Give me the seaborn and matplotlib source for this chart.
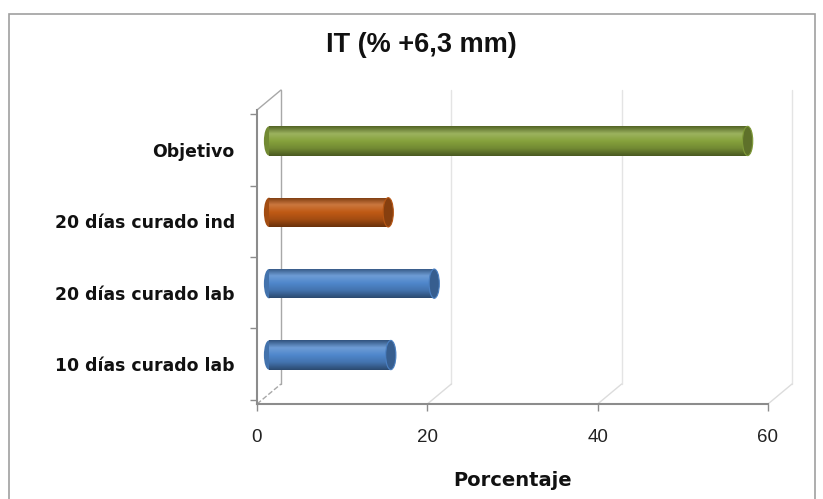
import numpy as np
import pandas as pd
import matplotlib
matplotlib.use("Agg")
import matplotlib.pyplot as plt
import matplotlib.transforms as mtransforms
from matplotlib.colors import LinearSegmentedColormap, to_rgb
from matplotlib.patches import Ellipse, Rectangle
import seaborn as sns

# data
categories = ["Objetivo", "20 días curado ind", "20 días curado lab", "10 días curado lab"]
values = [56.2, 14.0, 19.4, 14.3]
bar_colors = ["#86a23c", "#c05a15", "#4f87cc", "#4f87cc"]
x_ticks = [0, 20, 40, 60]

df = pd.DataFrame({"cat": categories, "val": values})

sns.set_theme(style="white")
plt.rcParams["font.family"] = ["Liberation Sans", "DejaVu Sans"]

W, H = 823, 499
fig = plt.figure(figsize=(W / 100, H / 100), dpi=100)
ax = fig.add_axes([257 / W, 1 - 404 / H, (768 - 257) / W, (404 - 110) / H])

sns.barplot(data=df, x="val", y="cat", hue="cat", palette=bar_colors,
            legend=False, width=0.41, saturation=1, edgecolor="none", ax=ax)

ax.set_xlim(0, 60)
ax.set_ylim(3.56, -0.56)

# pseudo 3d depth offsets (pixels)
back = mtransforms.ScaledTranslation(24 / 100, 20 / 100, fig.dpi_scale_trans)
mid = mtransforms.ScaledTranslation(12 / 100, 9 / 100, fig.dpi_scale_trans)


def cyl_cmap(c):
    r = np.array(to_rgb(c))
    light = r + (1 - r) * 0.18
    return LinearSegmentedColormap.from_list(
        "cyl", [r * 0.62, light, r, r * 0.85, r * 0.55])


# cylinder look for each bar
tr = ax.transData + mid
for patch, color in zip(list(ax.patches), bar_colors):
    x0, y0 = patch.get_x(), patch.get_y()
    w, h = patch.get_width(), patch.get_height()
    patch.set_transform(tr)
    grad = np.linspace(0, 1, 64).reshape(-1, 1)
    im = ax.imshow(grad, extent=[x0, x0 + w, y0 + h, y0], cmap=cyl_cmap(color),
                   aspect="auto", transform=tr, zorder=3, interpolation="bilinear")
    im.set_clip_path(patch)
    rgb = np.array(to_rgb(color))
    ax.add_patch(Ellipse((x0, y0 + h / 2), width=1.2, height=h, transform=tr,
                         facecolor=rgb * 0.85, edgecolor="none", zorder=2))
    ax.add_patch(Ellipse((x0 + w, y0 + h / 2), width=1.2, height=h, transform=tr,
                         facecolor=rgb * 0.7, edgecolor=rgb * 0.95, lw=0.8, zorder=4))

ax.set_xlim(0, 60)
ax.set_ylim(3.56, -0.56)

# back wall / floor lines
xt = ax.get_xaxis_transform()
ax_w_px = (768 - 257)
dx = 24 / (ax_w_px / 60)
dy = 20 / (404 - 110)
for xv in x_ticks:
    col = "#a8a8a8" if xv == 0 else "#e4e4e4"
    ax.plot([xv, xv], [0, 1], transform=xt + back, color=col, lw=1, clip_on=False, zorder=0)
    ax.plot([xv, xv + dx], [0, dy], transform=xt, color="#dcdcdc" if xv else "#a8a8a8",
            lw=1, ls="--" if xv == 0 else "-", clip_on=False, zorder=0)
ax.plot([0, dx], [1, 1 + dy], transform=xt, color="#a8a8a8", lw=1, clip_on=False)

# axes styling
sns.despine(ax=ax, top=True, right=True)
for s in ["left", "bottom"]:
    ax.spines[s].set_color("#8c8c8c")
    ax.spines[s].set_linewidth(1.5)
ax.set_xticks(x_ticks)
ax.tick_params(axis="x", bottom=True, length=5, width=1, color="#8c8c8c",
               labelsize=13.5, pad=13, labelcolor="#222222")
ax.tick_params(axis="y", left=False, pad=10)
ax.set_yticks(np.arange(-0.5, len(categories), 1), minor=True)
ax.tick_params(axis="y", which="minor", left=True, length=5, width=1, color="#8c8c8c")
for lbl in ax.get_yticklabels():
    lbl.set_fontweight("bold")
    lbl.set_fontfamily("DejaVu Sans")
    lbl.set_fontsize(12.4)
    lbl.set_color("#111111")
ax.set_ylabel("")
ax.set_xlabel("Porcentaje", fontsize=14, fontweight="bold", family="DejaVu Sans",
              labelpad=18, color="#111111")

fig.text(421 / W, 1 - 45 / H, "IT (% +6,3 mm)", ha="center", va="center",
         fontsize=19.5, fontweight="bold", color="#111111")

# chart border
fig.patches.append(Rectangle((9 / W, -0.01), (815 - 9) / W, 1 - 14 / H + 0.01,
                             transform=fig.transFigure, fill=False,
                             edgecolor="#a0a0a0", lw=1.2))

fig.savefig("out.png", dpi=100)
